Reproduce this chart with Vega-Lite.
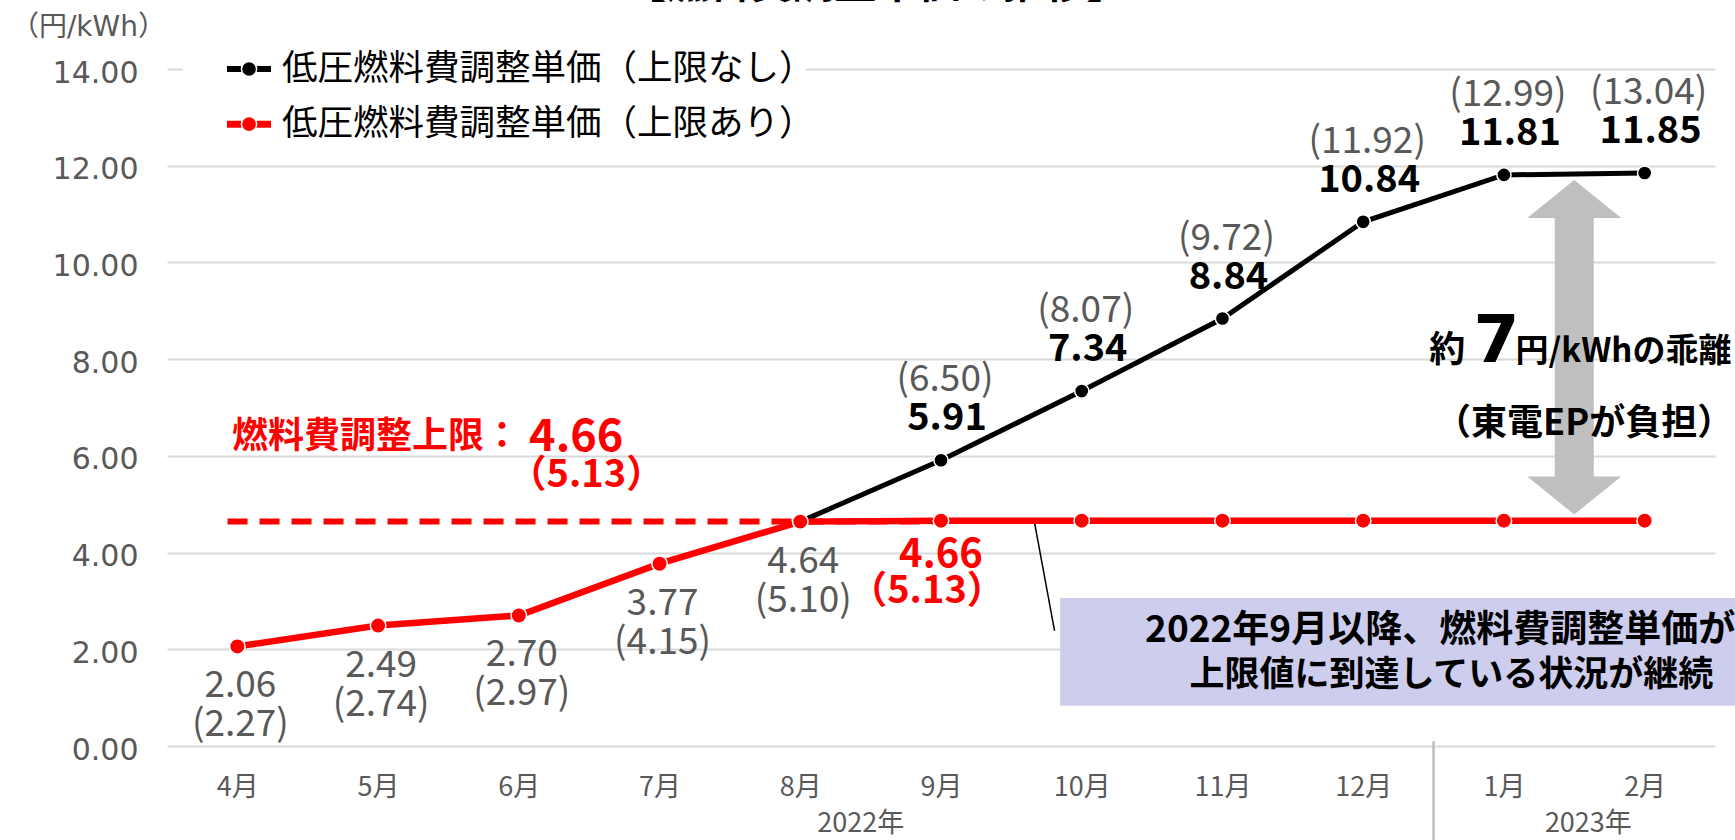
{
  "$schema": "https://vega.github.io/schema/vega-lite/v6.json",
  "width": 1548,
  "height": 677,
  "autosize": {"type": "none"},
  "padding": {"left": 167, "top": 69, "right": 20, "bottom": 94},
  "background": "white",
  "config": {"view": {"stroke": null}},
  "resolve": {"scale": {"x": "independent"}},
  "layer": [
    {
      "layer": [
        {
          "data": {"values": [{"u0": 0.114, "u1": 4.54, "v0": 14.6, "v1": 12.25}]},
          "mark": {"type": "rect", "color": "white"},
          "encoding": {
            "x": {"field": "u0", "type": "quantitative", "scale": {"domain": [0, 11], "nice": false, "zero": false}, "axis": null},
            "x2": {"field": "u1"},
            "y": {"field": "v0", "type": "quantitative", "scale": {"domain": [0, 14], "nice": false}, "title": null},
            "y2": {"field": "v1"}
          }
        },
        {
          "data": {"values": [{"u0": 6.347, "u1": 11.3, "v0": 3.06, "v1": 0.83}]},
          "mark": {"type": "rect", "color": "#cdcdee"},
          "encoding": {
            "x": {"field": "u0", "type": "quantitative", "scale": {"domain": [0, 11], "nice": false, "zero": false}, "axis": null},
            "x2": {"field": "u1"},
            "y": {"field": "v0", "type": "quantitative", "scale": {"domain": [0, 14], "nice": false}, "title": null},
            "y2": {"field": "v1"}
          }
        },
        {
          "data": {"values": [{"u0": 0.43, "u1": 5.5, "v": 4.64}]},
          "mark": {"type": "rule", "color": "#ff0000", "strokeWidth": 6, "strokeDash": [20, 12]},
          "encoding": {
            "x": {"field": "u0", "type": "quantitative", "scale": {"domain": [0, 11], "nice": false, "zero": false}, "axis": null},
            "x2": {"field": "u1"},
            "y": {"field": "v", "type": "quantitative", "scale": {"domain": [0, 14], "nice": false}, "title": null}
          }
        },
        {
          "data": {"values": [{"u": 10.0, "v0": 10.95, "v1": 5.53}]},
          "mark": {"type": "rule", "color": "#bfbfbf", "strokeWidth": 39, "strokeCap": "butt"},
          "encoding": {
            "x": {"field": "u", "type": "quantitative", "scale": {"domain": [0, 11], "nice": false, "zero": false}, "axis": null},
            "y": {"field": "v0", "type": "quantitative", "scale": {"domain": [0, 14], "nice": false}, "title": null},
            "y2": {"field": "v1"}
          }
        },
        {
          "data": {"values": [{"u": 10.0, "v": 11.31}]},
          "mark": {"type": "point", "filled": true, "opacity": 1, "color": "#bfbfbf", "size": 8836, "shape": "M-1,0.404L0,-0.404L1,0.404Z"},
          "encoding": {
            "x": {"field": "u", "type": "quantitative", "scale": {"domain": [0, 11], "nice": false, "zero": false}, "axis": null},
            "y": {"field": "v", "type": "quantitative", "scale": {"domain": [0, 14], "nice": false}, "title": null}
          }
        },
        {
          "data": {"values": [{"u": 10.0, "v": 5.18}]},
          "mark": {"type": "point", "filled": true, "opacity": 1, "color": "#bfbfbf", "size": 8836, "shape": "M-1,-0.404L1,-0.404L0,0.404Z"},
          "encoding": {
            "x": {"field": "u", "type": "quantitative", "scale": {"domain": [0, 11], "nice": false, "zero": false}, "axis": null},
            "y": {"field": "v", "type": "quantitative", "scale": {"domain": [0, 14], "nice": false}, "title": null}
          }
        }
      ]
    },
    {
      "data": {"values": [
        {"m": "4月", "cap": 2.06, "unc": null, "cl": "2.06", "cp": "(2.27)"},
        {"m": "5月", "cap": 2.49, "unc": null, "cl": "2.49", "cp": "(2.74)"},
        {"m": "6月", "cap": 2.70, "unc": null, "cl": "2.70", "cp": "(2.97)"},
        {"m": "7月", "cap": 3.77, "unc": null, "cl": "3.77", "cp": "(4.15)"},
        {"m": "8月", "cap": 4.64, "unc": 4.64, "cl": "4.64", "cp": "(5.10)"},
        {"m": "9月", "cap": 4.66, "unc": 5.91, "rl": "4.66", "rp": "（5.13）", "ul": "5.91", "up": "(6.50)"},
        {"m": "10月", "cap": 4.66, "unc": 7.34, "ul": "7.34", "up": "(8.07)"},
        {"m": "11月", "cap": 4.66, "unc": 8.84, "ul": "8.84", "up": "(9.72)"},
        {"m": "12月", "cap": 4.66, "unc": 10.84, "ul": "10.84", "up": "(11.92)"},
        {"m": "1月", "cap": 4.66, "unc": 11.81, "ul": "11.81", "up": "(12.99)"},
        {"m": "2月", "cap": 4.66, "unc": 11.85, "ul": "11.85", "up": "(13.04)"}
      ]},
      "layer": [
        {
          "mark": {"type": "line", "color": "black", "strokeWidth": 5},
          "encoding": {
            "x": {"field": "m", "type": "ordinal", "sort": null, "axis": {"title": null, "labelAngle": 0, "labelFont": "Noto Sans CJK JP", "labelFontSize": 27, "labelColor": "#595959", "labelPadding": 28, "labelBaseline": "top", "ticks": false, "domain": false, "grid": false}},
            "y": {"field": "unc", "type": "quantitative", "scale": {"domain": [0, 14], "nice": false}, "title": null, "axis": {"title": null, "values": [0, 2, 4, 6, 8, 10, 12, 14], "format": ".2f", "labelFont": "DejaVu Sans", "labelFontSize": 30, "labelColor": "#595959", "labelPadding": 29, "labelOffset": 4, "ticks": false, "domain": false, "grid": true, "gridColor": "#d9d9d9", "gridWidth": 2}}
          }
        },
        {
          "mark": {"type": "line", "color": "#ff0000", "strokeWidth": 6.5},
          "encoding": {
            "x": {"field": "m", "type": "ordinal", "sort": null},
            "y": {"field": "cap", "type": "quantitative", "scale": {"domain": [0, 14], "nice": false}, "title": null}
          }
        },
        {
          "mark": {"type": "point", "filled": true, "opacity": 1, "color": "black", "size": 200, "stroke": "white", "strokeWidth": 1.5},
          "encoding": {
            "x": {"field": "m", "type": "ordinal", "sort": null},
            "y": {"field": "unc", "type": "quantitative", "scale": {"domain": [0, 14], "nice": false}, "title": null}
          }
        },
        {
          "mark": {"type": "point", "filled": true, "opacity": 1, "color": "#ff0000", "size": 240, "stroke": "white", "strokeWidth": 1.5},
          "encoding": {
            "x": {"field": "m", "type": "ordinal", "sort": null},
            "y": {"field": "cap", "type": "quantitative", "scale": {"domain": [0, 14], "nice": false}, "title": null}
          }
        },
        {
          "transform": [{"filter": "datum.cl != null"}],
          "mark": {"type": "text", "font": "Noto Sans CJK JP", "fontSize": 37, "color": "#595959", "baseline": "middle", "dy": 40, "dx": 3},
          "encoding": {
            "x": {"field": "m", "type": "ordinal", "sort": null},
            "y": {"field": "cap", "type": "quantitative", "scale": {"domain": [0, 14], "nice": false}, "title": null},
            "text": {"field": "cl"}
          }
        },
        {
          "transform": [{"filter": "datum.cp != null"}],
          "mark": {"type": "text", "font": "Noto Sans CJK JP", "fontSize": 37, "color": "#595959", "baseline": "middle", "dy": 79, "dx": 3},
          "encoding": {
            "x": {"field": "m", "type": "ordinal", "sort": null},
            "y": {"field": "cap", "type": "quantitative", "scale": {"domain": [0, 14], "nice": false}, "title": null},
            "text": {"field": "cp"}
          }
        },
        {
          "transform": [{"filter": "datum.rl != null"}],
          "mark": {"type": "text", "font": "Noto Sans CJK JP", "fontWeight": "bold", "fontSize": 40, "color": "#ff0000", "baseline": "middle", "dy": 34, "dx": 0},
          "encoding": {
            "x": {"field": "m", "type": "ordinal", "sort": null},
            "y": {"field": "cap", "type": "quantitative", "scale": {"domain": [0, 14], "nice": false}, "title": null},
            "text": {"field": "rl"}
          }
        },
        {
          "transform": [{"filter": "datum.rp != null"}],
          "mark": {"type": "text", "font": "Noto Sans CJK JP", "fontWeight": "bold", "fontSize": 38, "color": "#ff0000", "baseline": "middle", "dy": 71, "dx": -14},
          "encoding": {
            "x": {"field": "m", "type": "ordinal", "sort": null},
            "y": {"field": "cap", "type": "quantitative", "scale": {"domain": [0, 14], "nice": false}, "title": null},
            "text": {"field": "rp"}
          }
        },
        {
          "transform": [{"filter": "datum.ul != null"}],
          "mark": {"type": "text", "font": "Noto Sans CJK JP", "fontWeight": "bold", "fontSize": 38, "color": "black", "baseline": "middle", "dy": -41, "dx": 6},
          "encoding": {
            "x": {"field": "m", "type": "ordinal", "sort": null},
            "y": {"field": "unc", "type": "quantitative", "scale": {"domain": [0, 14], "nice": false}, "title": null},
            "text": {"field": "ul"}
          }
        },
        {
          "transform": [{"filter": "datum.up != null"}],
          "mark": {"type": "text", "font": "Noto Sans CJK JP", "fontSize": 37, "color": "#595959", "baseline": "middle", "dy": -80, "dx": 4},
          "encoding": {
            "x": {"field": "m", "type": "ordinal", "sort": null},
            "y": {"field": "unc", "type": "quantitative", "scale": {"domain": [0, 14], "nice": false}, "title": null},
            "text": {"field": "up"}
          }
        }
      ]
    },
    {
      "layer": [
        {
          "data": {"values": [{"u0": 6.166, "v0": 4.6, "u1": 6.307, "v1": 2.38}]},
          "mark": {"type": "rule", "color": "black", "strokeWidth": 1.5},
          "encoding": {
            "x": {"field": "u0", "type": "quantitative", "scale": {"domain": [0, 11], "nice": false, "zero": false}, "axis": null},
            "x2": {"field": "u1"},
            "y": {"field": "v0", "type": "quantitative", "scale": {"domain": [0, 14], "nice": false}, "title": null},
            "y2": {"field": "v1"}
          }
        },
        {
          "data": {"values": [{"u": 9.0, "v0": 0.1, "v1": -1.95}]},
          "mark": {"type": "rule", "color": "#bfbfbf", "strokeWidth": 2.5},
          "encoding": {
            "x": {"field": "u", "type": "quantitative", "scale": {"domain": [0, 11], "nice": false, "zero": false}, "axis": null},
            "y": {"field": "v0", "type": "quantitative", "scale": {"domain": [0, 14], "nice": false}, "title": null},
            "y2": {"field": "v1"}
          }
        },
        {
          "data": {"values": [
            {"u0": 0.426, "u1": 0.739, "uc": 0.583, "ut": 0.817, "v": 14.0, "s": "上限なし", "t": "低圧燃料費調整単価（上限なし）"},
            {"u0": 0.426, "u1": 0.739, "uc": 0.583, "ut": 0.817, "v": 12.86, "s": "上限あり", "t": "低圧燃料費調整単価（上限あり）"}
          ]},
          "layer": [
            {
              "mark": {"type": "rule"},
              "encoding": {
                "x": {"field": "u0", "type": "quantitative", "scale": {"domain": [0, 11], "nice": false, "zero": false}, "axis": null},
                "x2": {"field": "u1"},
                "y": {"field": "v", "type": "quantitative", "scale": {"domain": [0, 14], "nice": false}, "title": null},
                "color": {"field": "s", "type": "nominal", "scale": {"domain": ["上限なし", "上限あり"], "range": ["black", "#ff0000"]}, "legend": null},
                "strokeWidth": {"field": "s", "type": "nominal", "scale": {"domain": ["上限なし", "上限あり"], "range": [6, 7]}, "legend": null}
              }
            },
            {
              "mark": {"type": "point", "filled": true, "opacity": 1, "size": 230, "stroke": "white", "strokeWidth": 1.5},
              "encoding": {
                "x": {"field": "uc", "type": "quantitative", "scale": {"domain": [0, 11], "nice": false, "zero": false}, "axis": null},
                "y": {"field": "v", "type": "quantitative", "scale": {"domain": [0, 14], "nice": false}, "title": null},
                "fill": {"field": "s", "type": "nominal", "scale": {"domain": ["上限なし", "上限あり"], "range": ["black", "#ff0000"]}, "legend": null}
              }
            },
            {
              "mark": {"type": "text", "font": "Noto Sans CJK JP", "fontSize": 35.5, "color": "black", "align": "left", "baseline": "middle"},
              "encoding": {
                "x": {"field": "ut", "type": "quantitative", "scale": {"domain": [0, 11], "nice": false, "zero": false}, "axis": null},
                "y": {"field": "v", "type": "quantitative", "scale": {"domain": [0, 14], "nice": false}, "title": null},
                "text": {"field": "t"}
              }
            }
          ]
        },
        {
          "data": {"values": [
            {"u": 5.04, "v": 15.47, "t": "【燃料費調整単価の推移】"}
          ]},
          "mark": {"type": "text", "font": "Noto Sans CJK JP", "fontWeight": "bold", "fontSize": 42, "color": "black", "align": "center", "baseline": "alphabetic"},
          "encoding": {
            "x": {"field": "u", "type": "quantitative", "scale": {"domain": [0, 11], "nice": false, "zero": false}, "axis": null},
            "y": {"field": "v", "type": "quantitative", "scale": {"domain": [0, 14], "nice": false}, "title": null},
            "text": {"field": "t"}
          }
        },
        {
          "data": {"values": [
            {"u": -1.109, "v": 14.85, "t": "（円/kWh）"}
          ]},
          "mark": {"type": "text", "font": "DejaVu Sans, Noto Sans CJK JP", "fontSize": 28, "color": "#595959", "align": "left", "baseline": "middle"},
          "encoding": {
            "x": {"field": "u", "type": "quantitative", "scale": {"domain": [0, 11], "nice": false, "zero": false}, "axis": null},
            "y": {"field": "v", "type": "quantitative", "scale": {"domain": [0, 14], "nice": false}, "title": null},
            "text": {"field": "t"}
          }
        },
        {
          "data": {"values": [
            {"u": 4.93, "v": -1.61, "t": "2022年"},
            {"u": 10.1, "v": -1.61, "t": "2023年"}
          ]},
          "mark": {"type": "text", "font": "Noto Sans CJK JP", "fontSize": 27, "color": "#595959", "align": "center", "baseline": "middle"},
          "encoding": {
            "x": {"field": "u", "type": "quantitative", "scale": {"domain": [0, 11], "nice": false, "zero": false}, "axis": null},
            "y": {"field": "v", "type": "quantitative", "scale": {"domain": [0, 14], "nice": false}, "title": null},
            "text": {"field": "t"}
          }
        },
        {
          "data": {"values": [
            {"u": 0.462, "v": 6.39, "t": "燃料費調整上限："}
          ]},
          "mark": {"type": "text", "font": "Noto Sans CJK JP", "fontWeight": "bold", "fontSize": 36, "color": "#ff0000", "align": "left", "baseline": "middle"},
          "encoding": {
            "x": {"field": "u", "type": "quantitative", "scale": {"domain": [0, 11], "nice": false, "zero": false}, "axis": null},
            "y": {"field": "v", "type": "quantitative", "scale": {"domain": [0, 14], "nice": false}, "title": null},
            "text": {"field": "t"}
          }
        },
        {
          "data": {"values": [
            {"u": 2.573, "v": 6.39, "t": "4.66"}
          ]},
          "mark": {"type": "text", "font": "Noto Sans CJK JP", "fontWeight": "bold", "fontSize": 45, "color": "#ff0000", "align": "left", "baseline": "middle"},
          "encoding": {
            "x": {"field": "u", "type": "quantitative", "scale": {"domain": [0, 11], "nice": false, "zero": false}, "axis": null},
            "y": {"field": "v", "type": "quantitative", "scale": {"domain": [0, 14], "nice": false}, "title": null},
            "text": {"field": "t"}
          }
        },
        {
          "data": {"values": [
            {"u": 2.98, "v": 5.58, "t": "（5.13）"}
          ]},
          "mark": {"type": "text", "font": "Noto Sans CJK JP", "fontWeight": "bold", "fontSize": 38, "color": "#ff0000", "align": "center", "baseline": "middle"},
          "encoding": {
            "x": {"field": "u", "type": "quantitative", "scale": {"domain": [0, 11], "nice": false, "zero": false}, "axis": null},
            "y": {"field": "v", "type": "quantitative", "scale": {"domain": [0, 14], "nice": false}, "title": null},
            "text": {"field": "t"}
          }
        },
        {
          "data": {"values": [
            {"u": 9.225, "v": 7.94, "t": "約"}
          ]},
          "mark": {"type": "text", "font": "Noto Sans CJK JP", "fontWeight": "bold", "fontSize": 36, "color": "black", "align": "right", "baseline": "alphabetic"},
          "encoding": {
            "x": {"field": "u", "type": "quantitative", "scale": {"domain": [0, 11], "nice": false, "zero": false}, "axis": null},
            "y": {"field": "v", "type": "quantitative", "scale": {"domain": [0, 14], "nice": false}, "title": null},
            "text": {"field": "t"}
          }
        },
        {
          "data": {"values": [
            {"u": 11.117, "v": 7.94, "t": "円/kWhの乖離"}
          ]},
          "mark": {"type": "text", "font": "Noto Sans CJK JP", "fontWeight": "bold", "fontSize": 33, "color": "black", "align": "right", "baseline": "alphabetic"},
          "encoding": {
            "x": {"field": "u", "type": "quantitative", "scale": {"domain": [0, 11], "nice": false, "zero": false}, "axis": null},
            "y": {"field": "v", "type": "quantitative", "scale": {"domain": [0, 14], "nice": false}, "title": null},
            "text": {"field": "t"}
          }
        },
        {
          "data": {"values": [
            {"u": 9.61, "v": 7.94, "t": "7"}
          ]},
          "mark": {"type": "text", "font": "DejaVu Sans", "fontWeight": "bold", "fontSize": 66, "color": "black", "align": "right", "baseline": "alphabetic"},
          "encoding": {
            "x": {"field": "u", "type": "quantitative", "scale": {"domain": [0, 11], "nice": false, "zero": false}, "axis": null},
            "y": {"field": "v", "type": "quantitative", "scale": {"domain": [0, 14], "nice": false}, "title": null},
            "text": {"field": "t"}
          }
        },
        {
          "data": {"values": [
            {"u": 10.07, "v": 6.66, "t": "（東電EPが負担）"}
          ]},
          "mark": {"type": "text", "font": "Noto Sans CJK JP", "fontWeight": "bold", "fontSize": 36, "color": "black", "align": "center", "baseline": "middle"},
          "encoding": {
            "x": {"field": "u", "type": "quantitative", "scale": {"domain": [0, 11], "nice": false, "zero": false}, "axis": null},
            "y": {"field": "v", "type": "quantitative", "scale": {"domain": [0, 14], "nice": false}, "title": null},
            "text": {"field": "t"}
          }
        },
        {
          "data": {"values": [
            {"u": 6.95, "v": 2.38, "t": "2022年9月以降、燃料費調整単価が"}
          ]},
          "mark": {"type": "text", "font": "Noto Sans CJK JP", "fontWeight": "bold", "fontSize": 37, "color": "black", "align": "left", "baseline": "middle"},
          "encoding": {
            "x": {"field": "u", "type": "quantitative", "scale": {"domain": [0, 11], "nice": false, "zero": false}, "axis": null},
            "y": {"field": "v", "type": "quantitative", "scale": {"domain": [0, 14], "nice": false}, "title": null},
            "text": {"field": "t"}
          }
        },
        {
          "data": {"values": [
            {"u": 7.265, "v": 1.47, "t": "上限値に到達している状況が継続"}
          ]},
          "mark": {"type": "text", "font": "Noto Sans CJK JP", "fontWeight": "bold", "fontSize": 35, "color": "black", "align": "left", "baseline": "middle"},
          "encoding": {
            "x": {"field": "u", "type": "quantitative", "scale": {"domain": [0, 11], "nice": false, "zero": false}, "axis": null},
            "y": {"field": "v", "type": "quantitative", "scale": {"domain": [0, 14], "nice": false}, "title": null},
            "text": {"field": "t"}
          }
        }
      ]
    }
  ]
}
